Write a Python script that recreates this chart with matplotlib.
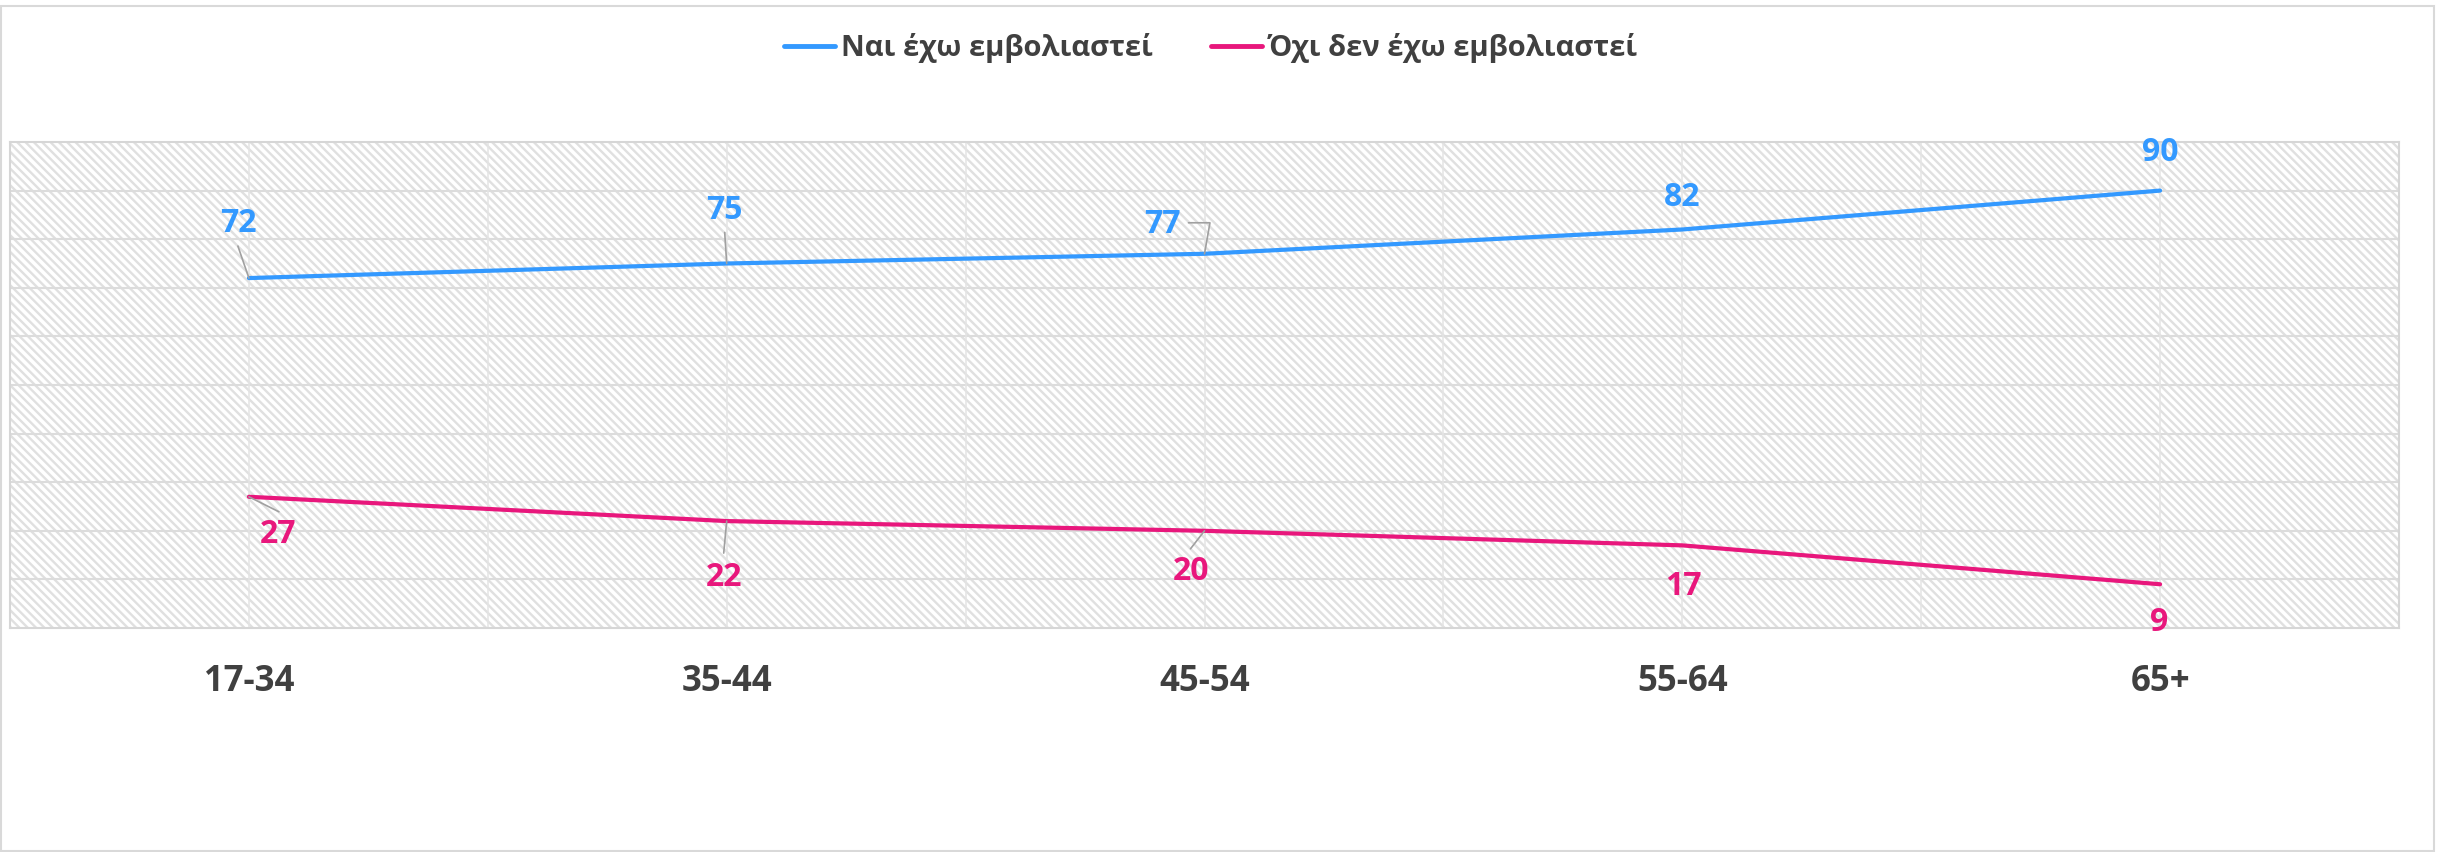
import matplotlib
matplotlib.use("Agg")
import matplotlib.pyplot as plt
from matplotlib.patches import Rectangle
from matplotlib.lines import Line2D

# data
age_groups = ["17-34", "35-44", "45-54", "55-64", "65+"]
vaccinated = [72, 75, 77, 82, 90]
not_vaccinated = [27, 22, 20, 17, 9]
series_names = ["Ναι έχω εμβολιαστεί", "Όχι δεν έχω εμβολιαστεί"]

BLUE = "#3399ff"
PINK = "#e8177c"
GRID = "#dcdcdc"
TEXT = "#404040"
LEADER = "#a0a0a0"

# label offsets in pixels (label centre relative to the point), and leader start
blue_offsets = [(-11, 55), (-2, 53), (-42, 29), (0, 32), (0, 38)]
blue_leaders = [(-11, 32), (-2, 31), None, None, None]
pink_offsets = [(29, -38), (-3, -56), (-13, -41), (1, -41), (-1, -38)]
pink_leaders = [(30, -15), (-3, -32), (-14, -18), None, None]

plt.rcParams["font.family"] = ["Open Sans", "DejaVu Sans"]
plt.rcParams["hatch.linewidth"] = 1.7

W, H = 2438, 852
fig = plt.figure(figsize=(W / 100, H / 100), dpi=100)
ax = fig.add_axes([10 / W, (H - 628) / H, (2399 - 10) / W, (628 - 142) / H])

# hatched plot background
ax.add_patch(Rectangle((0, 0), 1, 1, transform=ax.transAxes, facecolor="white",
                       edgecolor="#e0e0e0", hatch="\\\\\\\\", linewidth=0, zorder=0))

x = list(range(len(age_groups)))
ax.set_xlim(-0.5, len(age_groups) - 0.5)
ax.set_ylim(0, 100)

for k in range(1, 10):
    ax.axhline(k * 10, color=GRID, linewidth=1.5, zorder=1)
for k in range(1, 2 * len(age_groups)):
    ax.axvline(-0.5 + k * 0.5, color="#e4e4e4", linewidth=1.1, zorder=1)

ax.plot(x, vaccinated, color=BLUE, linewidth=3.0, solid_capstyle="round", zorder=3)
ax.plot(x, not_vaccinated, color=PINK, linewidth=3.0, solid_capstyle="round", zorder=3)


def label_series(values, offsets, leaders, color):
    for i, v in enumerate(values):
        dx, dy = offsets[i]
        ax.annotate(str(v), xy=(i, v), xytext=(dx, dy), textcoords="offset pixels",
                    ha="center", va="center", fontsize=23, fontweight="bold",
                    color=color, zorder=5)
        if leaders[i] is not None:
            ax.annotate("", xy=(i, v), xytext=leaders[i], textcoords="offset pixels",
                        arrowprops=dict(arrowstyle="-", color=LEADER, lw=1.2,
                                        shrinkA=0, shrinkB=0), zorder=4)


label_series(vaccinated, blue_offsets, blue_leaders, BLUE)
label_series(not_vaccinated, pink_offsets, pink_leaders, PINK)

# elbow leader for the 45-54 vaccinated label
ax.annotate("", xy=(2, vaccinated[2]), xytext=(-16, 31), textcoords="offset pixels",
            arrowprops=dict(arrowstyle="-", color=LEADER, lw=1.2, shrinkA=0, shrinkB=0,
                            connectionstyle="angle,angleA=0,angleB=80,rad=0"), zorder=4)

ax.set_xticks(x)
ax.set_xticklabels(age_groups, fontsize=25, fontweight="bold", color=TEXT)
ax.tick_params(axis="x", length=0, pad=26)
ax.set_yticks([])
for s in ax.spines.values():
    s.set_color("#d6d6d6")
    s.set_linewidth(1.5)

handles = [Line2D([], [], color=BLUE, linewidth=3.5, solid_capstyle="round"),
           Line2D([], [], color=PINK, linewidth=3.5, solid_capstyle="round")]
leg = fig.legend(handles, series_names, loc="center", bbox_to_anchor=(1211 / W, 1 - 48 / H),
                 ncol=2, frameon=False, fontsize=21, handlelength=1.75, handletextpad=0.2,
                 columnspacing=2.0)
for t in leg.get_texts():
    t.set_color(TEXT)
    t.set_fontweight("bold")

# chart area border
fig.add_artist(Rectangle((1 / W, 1 / H), 2433 / W, 845 / H, transform=fig.transFigure,
                         fill=False, edgecolor="#d9d9d9", linewidth=1.5))

fig.savefig("out.png", dpi=100)
